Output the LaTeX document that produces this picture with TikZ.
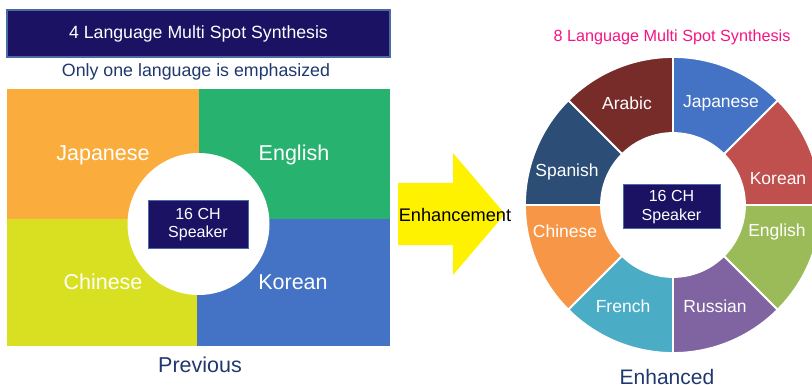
\documentclass[tikz,border=0pt]{standalone}
\usepackage{fontspec}
\setmainfont{Liberation Sans}
\definecolor{navybox}{RGB}{27,18,100}
\definecolor{boxedge}{RGB}{74,107,168}
\definecolor{navytext}{RGB}{31,56,110}
\definecolor{qorange}{RGB}{250,173,61}
\definecolor{qgreen}{RGB}{39,179,111}
\definecolor{qyellow}{RGB}{217,224,33}
\definecolor{qblue}{RGB}{68,114,196}
\definecolor{cArabic}{RGB}{119,44,42}
\definecolor{cJapanese}{RGB}{68,114,196}
\definecolor{cKorean}{RGB}{192,80,77}
\definecolor{cEnglish}{RGB}{155,187,89}
\definecolor{cRussian}{RGB}{128,100,162}
\definecolor{cFrench}{RGB}{75,172,198}
\definecolor{cChinese}{RGB}{247,150,70}
\definecolor{cSpanish}{RGB}{44,77,117}
\definecolor{pinktext}{RGB}{245,20,130}
\begin{document}
\begin{tikzpicture}[x=1pt,y=-1pt,
  titlebox/.style={draw=boxedge, line width=1.2pt, fill=navybox, text=white, inner sep=0pt},
  spkbox/.style={draw=boxedge, line width=1pt, fill=navybox, text=white, inner sep=0pt, align=center, font=\fontsize{16}{18.5}\selectfont},
  biglabel/.style={text=white, font=\fontsize{21.5}{24}\selectfont, inner sep=0pt},
  seglabel/.style={text=white, font=\fontsize{17.5}{20}\selectfont, inner sep=0pt},
  seg/.style={draw=white, line width=1.8pt}]
\useasboundingbox (0,0) rectangle (812,385);
\clip (0,0) rectangle (812,385);
% ---------- left: previous ----------
\node[titlebox, minimum width=383pt, minimum height=47pt, font=\fontsize{17.7}{20}\selectfont] (title) at (198.5,33.5) {4 Language Multi Spot Synthesis};
\node[text=navytext, font=\fontsize{17.8}{20}\selectfont, inner sep=0pt] (sub) at (196,72) {Only one language is emphasized};
\fill[qorange] (7,89) rectangle (199,219);
\fill[qgreen] (199,89) rectangle (390,219);
\fill[qyellow] (7,219) rectangle (197,346);
\fill[qblue] (197,219) rectangle (390,346);
\fill[white] (198.5,224) circle[radius=71pt];
\node[spkbox, minimum width=100pt, minimum height=47pt] (spkL) at (198,224.5) {16 CH\\Speaker};
\node[biglabel] (jpL) at (103,155) {Japanese};
\node[biglabel] (enL) at (294,155) {English};
\node[biglabel] (cnL) at (103,282) {Chinese};
\node[biglabel] (krL) at (293,282) {Korean};
\node[text=navytext, font=\fontsize{21.5}{24}\selectfont, inner sep=0pt] (prev) at (200,365) {Previous};
% ---------- arrow ----------
\fill[yellow] (398,183) -- (453,183) -- (453,153) -- (505,214) -- (453,275) -- (453,245) -- (398,245) -- cycle;
\node[text=black, font=\fontsize{18.2}{20}\selectfont, inner sep=0pt] (enh) at (455,215) {Enhancement};
% ---------- right: enhanced ----------
\node[text=pinktext, font=\fontsize{16.2}{18}\selectfont, inner sep=0pt] (title8) at (672,37) {8 Language Multi Spot Synthesis};
\begin{scope}[shift={(673pt,-205pt)}]
  \foreach \a/\c in {90/cArabic,135/cSpanish,180/cChinese,225/cFrench,270/cRussian,315/cEnglish,0/cKorean,45/cJapanese}{
    \pgfmathsetmacro{\b}{\a+45}
    \filldraw[seg, fill=\c] (\a:72pt) -- (\a:148pt) arc[start angle=\a, end angle=\b, radius=148pt] -- (\b:72pt) arc[start angle=\b, end angle=\a, radius=72pt] -- cycle;
  }
\end{scope}
\node[seglabel] (ar) at (627,103) {Arabic};
\node[seglabel] (jp) at (721,103) {Japanese};
\node[seglabel] (sp) at (567,172) {Spanish};
\node[seglabel] (kr) at (778,179) {Korean};
\node[seglabel] (en) at (777,232) {English};
\node[seglabel] (cn) at (565,231) {Chinese};
\node[seglabel] (fr) at (623,306) {French};
\node[seglabel] (ru) at (715,306) {Russian};
\node[spkbox, minimum width=97pt, minimum height=44pt] (spkR) at (671.5,207) {16 CH\\Speaker};
\node[text=navytext, font=\fontsize{21}{24}\selectfont, inner sep=0pt] (enhd) at (667,377) {Enhanced};
\end{tikzpicture}
\end{document}
